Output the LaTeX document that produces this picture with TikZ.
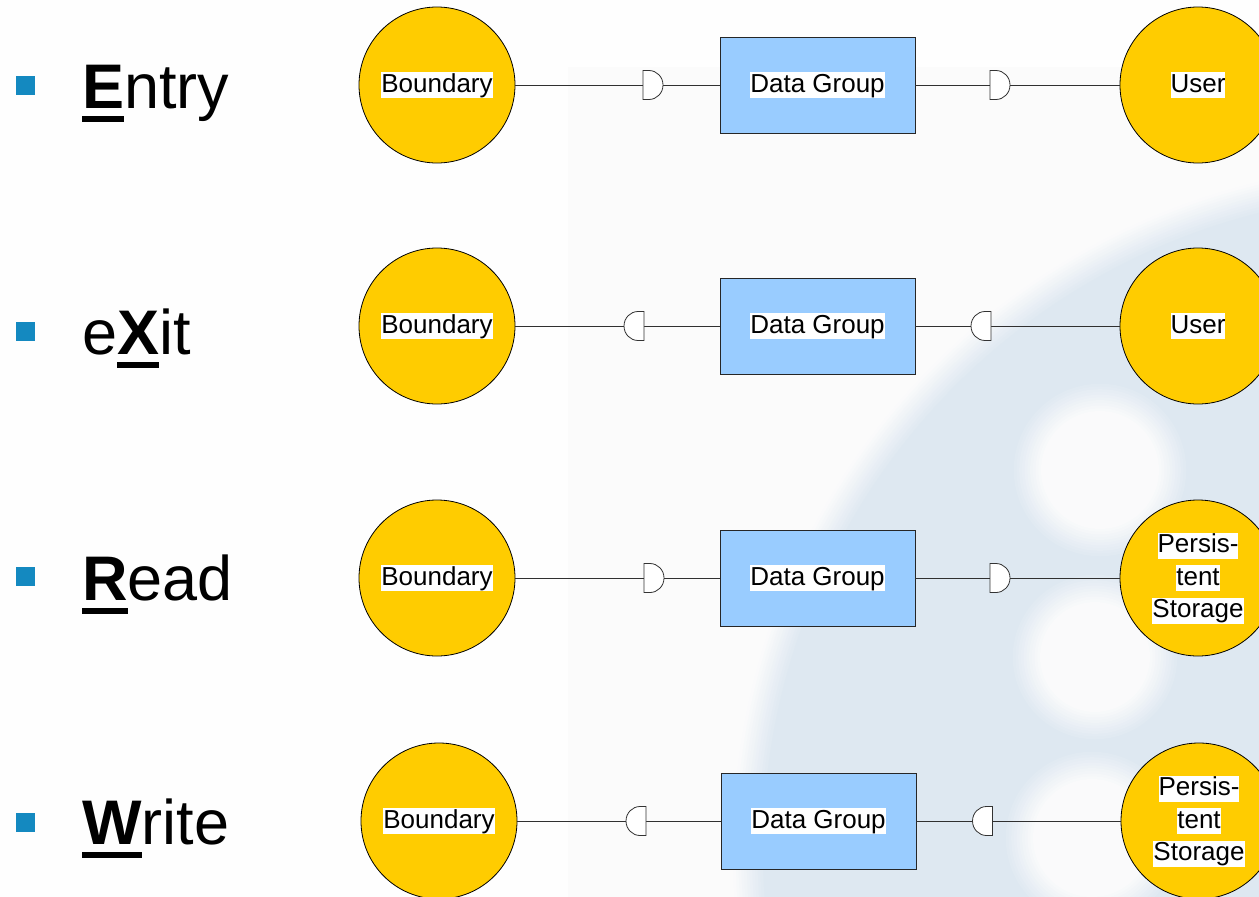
\documentclass[tikz,border=0pt]{standalone}
\usepackage{fontspec}
\setmainfont{Liberation Sans}

\definecolor{bgc}{HTML}{FEFEFE}
\definecolor{paneC}{HTML}{FBFBFB}
\definecolor{wmc}{HTML}{DDE7F1}
\definecolor{bulletblue}{HTML}{1489C0}
\definecolor{boundyellow}{HTML}{FFCC00}
\definecolor{groupblue}{HTML}{99CCFF}
\definecolor{lineC}{HTML}{303030}

% label fonts
\newcommand\lbl{\fontsize{26}{32.5}\selectfont}
\newcommand\ttl{\fontsize{63}{70}\selectfont}
% white highlight behind label text
\newcommand\hl[1]{{\setlength\fboxsep{0pt}\colorbox{white}{\rule[-0.23em]{0pt}{1em}#1}}}
% bold, thickly underlined key letter
\newcommand\keyletter[1]{\setbox0\hbox{\bfseries#1}\rlap{\rule[-14pt]{\wd0}{6pt}}\box0}
% half-round interface symbols, flat side left (dright) or right (dleft)
\newcommand\dright[1]{\path[dface,shift={(#1.center)}] (-10,-14.5) -- (-4,-14.5)
  .. controls (3.73,-14.5) and (10,-8) .. (10,0)
  .. controls (10,8) and (3.73,14.5) .. (-4,14.5) -- (-10,14.5) -- cycle;}
\newcommand\dleft[1]{\path[dface,shift={(#1.center)}] (10,-14.5) -- (4,-14.5)
  .. controls (-3.73,-14.5) and (-10,-8) .. (-10,0)
  .. controls (-10,8) and (-3.73,14.5) .. (4,14.5) -- (10,14.5) -- cycle;}

\begin{document}
\begin{tikzpicture}[x=1pt,y=-1pt,
  boundary/.style={circle,draw=black,line width=0.8pt,fill=boundyellow,
    minimum size=156pt,inner sep=0pt,align=center,font=\lbl},
  group/.style={rectangle,draw=black!85,line width=0.9pt,fill=groupblue,
    minimum width=195pt,minimum height=96pt,inner sep=0pt,font=\lbl},
  dnode/.style={rectangle,minimum width=20pt,minimum height=29pt,inner sep=0pt},
  conn/.style={draw=lineC,line width=0.9pt},
  dface/.style={draw=black!80,line width=0.8pt,fill=white},
  title/.style={anchor=base west,inner sep=0pt,font=\ttl},
  bullet/.style={fill=bulletblue,minimum size=19pt,inner sep=0pt}
]
\useasboundingbox (0,0) rectangle (1259,897);
\fill[bgc] (0,0) rectangle (1259,897);
\fill[paneC] (568,67) rectangle (1259,897);

% soft watermark disc with lighter holes
\foreach \i in {0,...,11}{
  \pgfmathsetmacro\rr{687-\i*30/11}
  \pgfmathsetmacro\mixv{(\i+0.5)*100/12}
  \fill[wmc!\mixv!paneC] (1420,850) circle[radius=\rr pt];
}
\foreach \cx/\cy/\r in {1100/470/74, 1095/657/70, 1092/838/74}{
  \foreach \i in {0,...,11}{
    \pgfmathsetmacro\rr{\r+15-\i*30/11}
    \pgfmathsetmacro\mixv{(\i+0.5)*100/12}
    \fill[paneC!\mixv!wmc] (\cx,\cy) circle[radius=\rr pt];
  }
}

% left column
\node[bullet] (s1) at (25.5,85) {};
\node[bullet] (s2) at (25.5,331) {};
\node[bullet] (s3) at (25.5,576.5) {};
\node[bullet] (s4) at (25.5,822) {};
\node[title] (t1) at (82,108) {\keyletter{E}ntry};
\node[title] (t2) at (82,354) {e\keyletter{X}it};
\node[title] (t3) at (82,600) {\keyletter{R}ead};
\node[title] (t4) at (82,844) {\keyletter{W}rite};

% Entry
\node[boundary] (b1) at (437,85) {\hl{Boundary}};
\node[group] (g1) at (817.5,85) {\hl{Data Group}};
\node[boundary] (u1) at (1198,85) {\hl{User}};
\node[dnode] (d1l) at (653,85) {};
\node[dnode] (d1r) at (1000,85) {};
% eXit
\node[boundary] (b2) at (437,326) {\hl{Boundary}};
\node[group] (g2) at (817.5,326) {\hl{Data Group}};
\node[boundary] (u2) at (1198,326) {\hl{User}};
\node[dnode] (d2l) at (634,326) {};
\node[dnode] (d2r) at (981,326) {};
% Read
\node[boundary] (b3) at (437,578) {\hl{Boundary}};
\node[group] (g3) at (817.5,578) {\hl{Data Group}};
\node[boundary] (p3) at (1198,578) {\hl{Persis-}\\\hl{tent}\\\hl{Storage}};
\node[dnode] (d3l) at (654,578) {};
\node[dnode] (d3r) at (1000,578) {};
% Write
\node[boundary] (b4) at (439,821) {\hl{Boundary}};
\node[group] (g4) at (818.5,821) {\hl{Data Group}};
\node[boundary] (p4) at (1199,821) {\hl{Persis-}\\\hl{tent}\\\hl{Storage}};
\node[dnode] (d4l) at (636,821) {};
\node[dnode] (d4r) at (982.5,821) {};

% connectors
\foreach \b/\l/\g/\r/\e in {b1/d1l/g1/d1r/u1, b2/d2l/g2/d2r/u2, b3/d3l/g3/d3r/p3, b4/d4l/g4/d4r/p4}{
  \draw[conn] (\b) -- (\l);
  \draw[conn] (\l) -- (\g);
  \draw[conn] (\g) -- (\r);
  \draw[conn] (\r) -- (\e);
}
\dright{d1l}\dright{d1r}
\dleft{d2l}\dleft{d2r}
\dright{d3l}\dright{d3r}
\dleft{d4l}\dleft{d4r}
\end{tikzpicture}
\end{document}
